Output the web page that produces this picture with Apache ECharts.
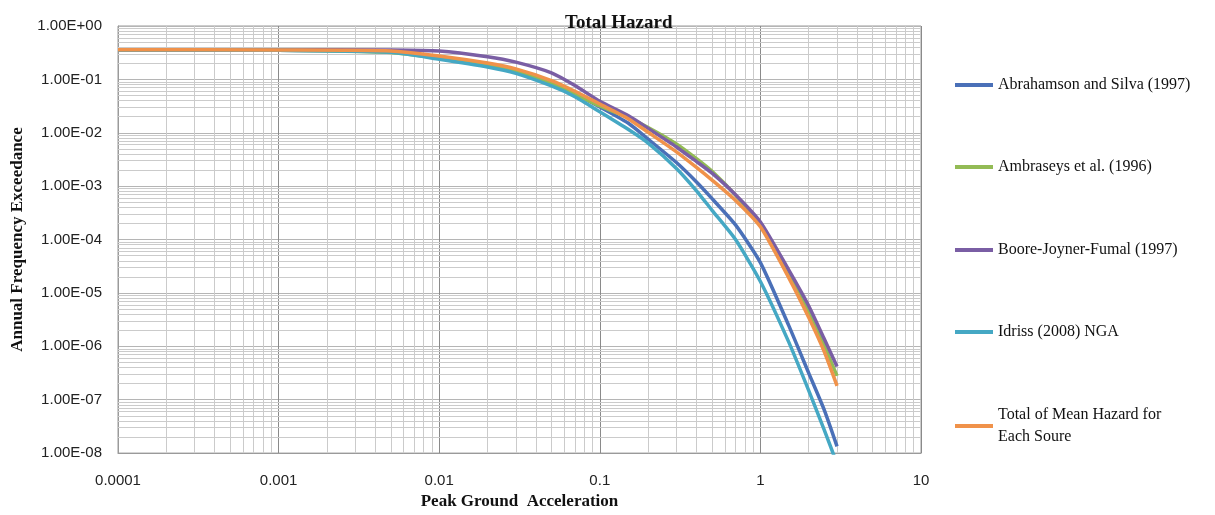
<!DOCTYPE html>
<html>
<head>
<meta charset="utf-8">
<script src="https://cdn.jsdelivr.net/npm/echarts@6/dist/echarts.min.js"></script>
<style>
html,body{margin:0;padding:0;background:#ffffff;}
#chart{width:1215px;height:515px;}
</style>
</head>
<body>
<div id="chart"></div>
<script>
// ---- data ----
const pga = [0.0001, 0.001, 0.005, 0.01, 0.02, 0.03, 0.05, 0.07, 0.1, 0.15, 0.2, 0.3, 0.4, 0.5, 0.7, 1, 1.5, 2, 2.5, 3];

const abrahamsonSilva = [0.355, 0.35, 0.335, 0.25, 0.182, 0.139, 0.082, 0.0527, 0.0305, 0.0152, 0.0076, 0.00277, 0.0012, 0.000585, 0.000188, 0.000037, 0.00000247, 3.15e-7, 6.4e-8, 1.34e-8];
const ambraseys = [0.35, 0.35, 0.32, 0.25, 0.186, 0.144, 0.0836, 0.0527, 0.0318, 0.0192, 0.0126, 0.0062, 0.00328, 0.0019, 0.00068, 0.000188, 0.000023, 0.0000043, 0.00000102, 2.8e-7];
const booreJoynerFumal = [0.36, 0.36, 0.355, 0.34, 0.266, 0.211, 0.133, 0.077, 0.039, 0.021, 0.0121, 0.00543, 0.00289, 0.00175, 0.00069, 0.000213, 0.000027, 0.0000057, 0.00000137, 4.2e-7];
const idriss = [0.355, 0.35, 0.321, 0.239, 0.171, 0.130, 0.0753, 0.0474, 0.0247, 0.0116, 0.0064, 0.00215, 0.00082, 0.000353, 0.0001, 0.0000164, 0.00000121, 1.48e-7, 2.7e-8, 6.3e-9];
const totalMean = [0.36, 0.355, 0.342, 0.275, 0.202, 0.157, 0.095, 0.06, 0.0346, 0.0184, 0.0102, 0.0044, 0.00225, 0.0013, 0.00054, 0.000173, 0.0000194, 0.00000346, 7.9e-7, 1.82e-7];

const seriesNames = ['Abrahamson and Silva (1997)', 'Ambraseys et al. (1996)', 'Boore-Joyner-Fumal (1997)', 'Idriss (2008) NGA', 'Total of Mean Hazard for Each Soure'];
const seriesValues = [abrahamsonSilva, ambraseys, booreJoynerFumal, idriss, totalMean];
const seriesColors = ['#4a70b8', '#93bb55', '#7a5ea4', '#45a8c4', '#f0924a'];

const xTickLabels = ['0.0001', '0.001', '0.01', '0.1', '1', '10'];
const yTickLabels = ['1.00E-08', '1.00E-07', '1.00E-06', '1.00E-05', '1.00E-04', '1.00E-03', '1.00E-02', '1.00E-01', '1.00E+00'];

// ---- minor grid values (2..9 in each decade) ----
const X_MIN = 0.0001, X_MAX = 10, Y_MIN = 1e-8, Y_MAX = 1;
const xMinor = [];
for (let k = -4; k <= 0; k++) for (let m = 2; m <= 9; m++) xMinor.push(m * Math.pow(10, k));
const yMinor = [];
for (let k = -8; k <= -1; k++) for (let m = 2; m <= 9; m++) yMinor.push(m * Math.pow(10, k));

const chart = echarts.init(document.getElementById('chart'), null, {renderer: 'canvas'});

const lineSeries = seriesNames.map((name, i) => ({
  name: name,
  type: 'line',
  data: pga.map((x, j) => [x, seriesValues[i][j]]),
  showSymbol: false,
  smooth: 0.2,
  clip: true,
  z: 3,
  lineStyle: {color: seriesColors[i], width: 3.5},
  itemStyle: {color: seriesColors[i]},
  animation: false
}));

const minorLines = xMinor.map(v => [{coord: [v, Y_MIN]}, {coord: [v, Y_MAX]}])
  .concat(yMinor.map(v => [{coord: [X_MIN, v]}, {coord: [X_MAX, v]}]));

const gridSeries = {
  name: '_grid',
  type: 'line',
  data: [],
  silent: true,
  z: 1,
  animation: false,
  markLine: {
    z: 1,
    silent: true,
    symbol: 'none',
    animation: false,
    label: {show: false},
    lineStyle: {color: '#cbcbcb', width: 1, type: 'solid'},
    emphasis: {disabled: true},
    data: minorLines
  }
};

const legendCenters = [78, 160, 243, 325, 418];
const legends = seriesNames.map((name, i) => ({
  data: [name],
  orient: 'vertical',
  left: 950,
  top: legendCenters[i] - (i === 4 ? 19 : 9),
  icon: 'rect',
  itemWidth: 38,
  itemHeight: 4,
  selectedMode: false,
  formatter: n => n === 'Total of Mean Hazard for Each Soure' ? 'Total of Mean Hazard for\nEach Soure' : n,
  textStyle: {fontFamily: 'Liberation Serif', fontSize: 16, color: '#111', lineHeight: 22, align: 'left'}
}));

chart.setOption({
  backgroundColor: '#ffffff',
  animation: false,
  title: {
    text: 'Total Hazard',
    left: 560,
    top: 9,
    z: 10,
    textStyle: {fontFamily: 'Liberation Serif', fontWeight: 'bold', fontSize: 19, color: '#111'}
  },
  legend: legends,
  grid: {left: 118, right: 294, top: 26, bottom: 51, show: true, borderColor: '#9a9a9a', borderWidth: 1, backgroundColor: 'transparent'},
  xAxis: {
    type: 'log',
    logBase: 10,
    min: X_MIN,
    max: X_MAX,
    splitNumber: 5,
    name: 'Peak Ground  Acceleration',
    nameLocation: 'middle',
    nameGap: 34,
    nameTextStyle: {fontFamily: 'Liberation Serif', fontWeight: 'bold', fontSize: 17, color: '#111'},
    axisLine: {show: true, lineStyle: {color: '#9a9a9a'}},
    axisTick: {show: false},
    axisLabel: {
      margin: 20,
      fontFamily: 'Liberation Sans',
      fontSize: 15,
      color: '#222',
      formatter: v => xTickLabels[Math.round(Math.log10(v)) + 4]
    },
    splitLine: {show: true, lineStyle: {color: '#8a8a8a', width: 1}}
  },
  yAxis: {
    type: 'log',
    logBase: 10,
    min: Y_MIN,
    max: Y_MAX,
    splitNumber: 8,
    name: 'Annual Frequency Exceedance',
    nameLocation: 'middle',
    nameGap: 92,
    nameTextStyle: {fontFamily: 'Liberation Serif', fontWeight: 'bold', fontSize: 17, color: '#111'},
    axisLine: {show: true, lineStyle: {color: '#9a9a9a'}},
    axisTick: {show: false},
    axisLabel: {
      margin: 16,
      fontFamily: 'Liberation Sans',
      fontSize: 15,
      color: '#222',
      formatter: v => yTickLabels[Math.round(Math.log10(v)) + 8]
    },
    splitLine: {show: true, lineStyle: {color: '#b5b5b5', width: 1}}
  },
  series: [gridSeries].concat(lineSeries)
});
</script>
</body>
</html>
